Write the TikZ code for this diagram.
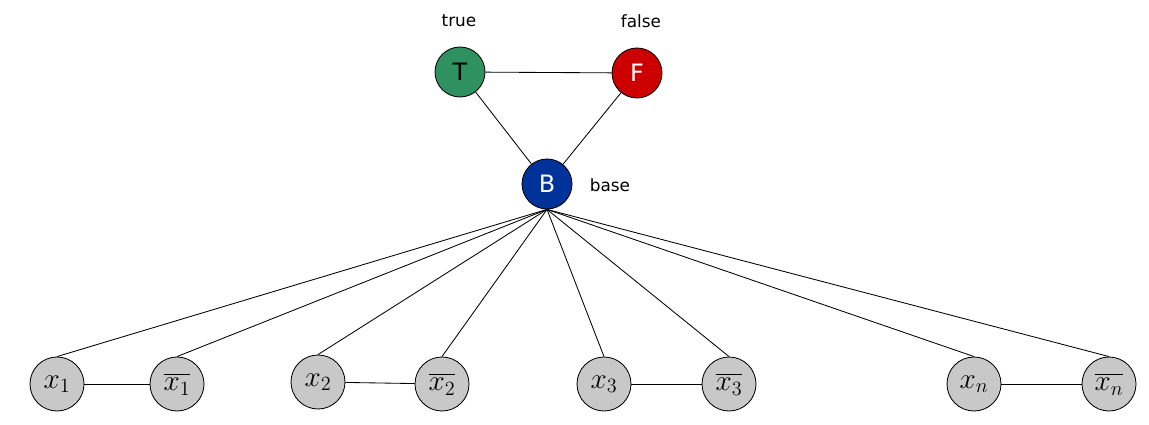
\documentclass[tikz,border=0pt]{standalone}
\usepackage{amsmath,amssymb}
\usepackage{fontspec}
\newfontfamily\lblfont{DejaVu Sans}
\usepackage{tikz}

\definecolor{tgreen}{RGB}{46,145,95}
\definecolor{fred}{RGB}{204,0,0}
\definecolor{bblue}{RGB}{0,51,153}
\definecolor{vgray}{RGB}{200,200,200}

\tikzset{
  colnode/.style={shape=circle, draw=black, minimum size=1.25cm, inner sep=0pt, font=\lblfont\fontsize{17}{18}\selectfont},
  varnode/.style={shape=circle, draw=black, fill=vgray, minimum size=1.35cm, inner sep=0pt, font=\fontsize{20}{22}\selectfont},
  lbl/.style={font=\lblfont\fontsize{12}{13}\selectfont}
}

\begin{document}
\begin{tikzpicture}[x=0.025cm, y=-0.025cm, line width=0.6pt]
    \useasboundingbox (0, 0) rectangle (1149, 425);

    % palette
    \node[colnode, fill=tgreen, text=black] (T) at (460, 72) {T};
    \node[colnode, fill=fred, text=white] (F) at (637, 73) {F};
    \node[colnode, fill=bblue, text=white] (B) at (547, 184) {B};
    \node[lbl] (true) at (459, 21) {true};
    \node[lbl] (false) at (641, 21) {false};
    \node[lbl] (base) at (610, 185) {base};

    \draw (T) -- (F);
    \draw (T) -- (B);
    \draw (F) -- (B);

    % variable gadgets
    \node[varnode] (x1) at (57, 384) {$x_1$};
    \node[varnode] (nx1) at (177, 384) {$\overline{x_1}$};
    \node[varnode] (x2) at (318, 382) {$x_2$};
    \node[varnode] (nx2) at (442, 384) {$\overline{x_2}$};
    \node[varnode] (x3) at (604, 384) {$x_3$};
    \node[varnode] (nx3) at (729, 384) {$\overline{x_3}$};
    \node[varnode] (xn) at (974, 384) {$x_n$};
    \node[varnode] (nxn) at (1109, 384) {$\overline{x_n}$};

    \foreach \v in {1,2,3,n} {
        \draw (x\v) -- (nx\v);
        \draw (B.south) -- (x\v.north);
        \draw (B.south) -- (nx\v.north);
    }
\end{tikzpicture}
\end{document}
